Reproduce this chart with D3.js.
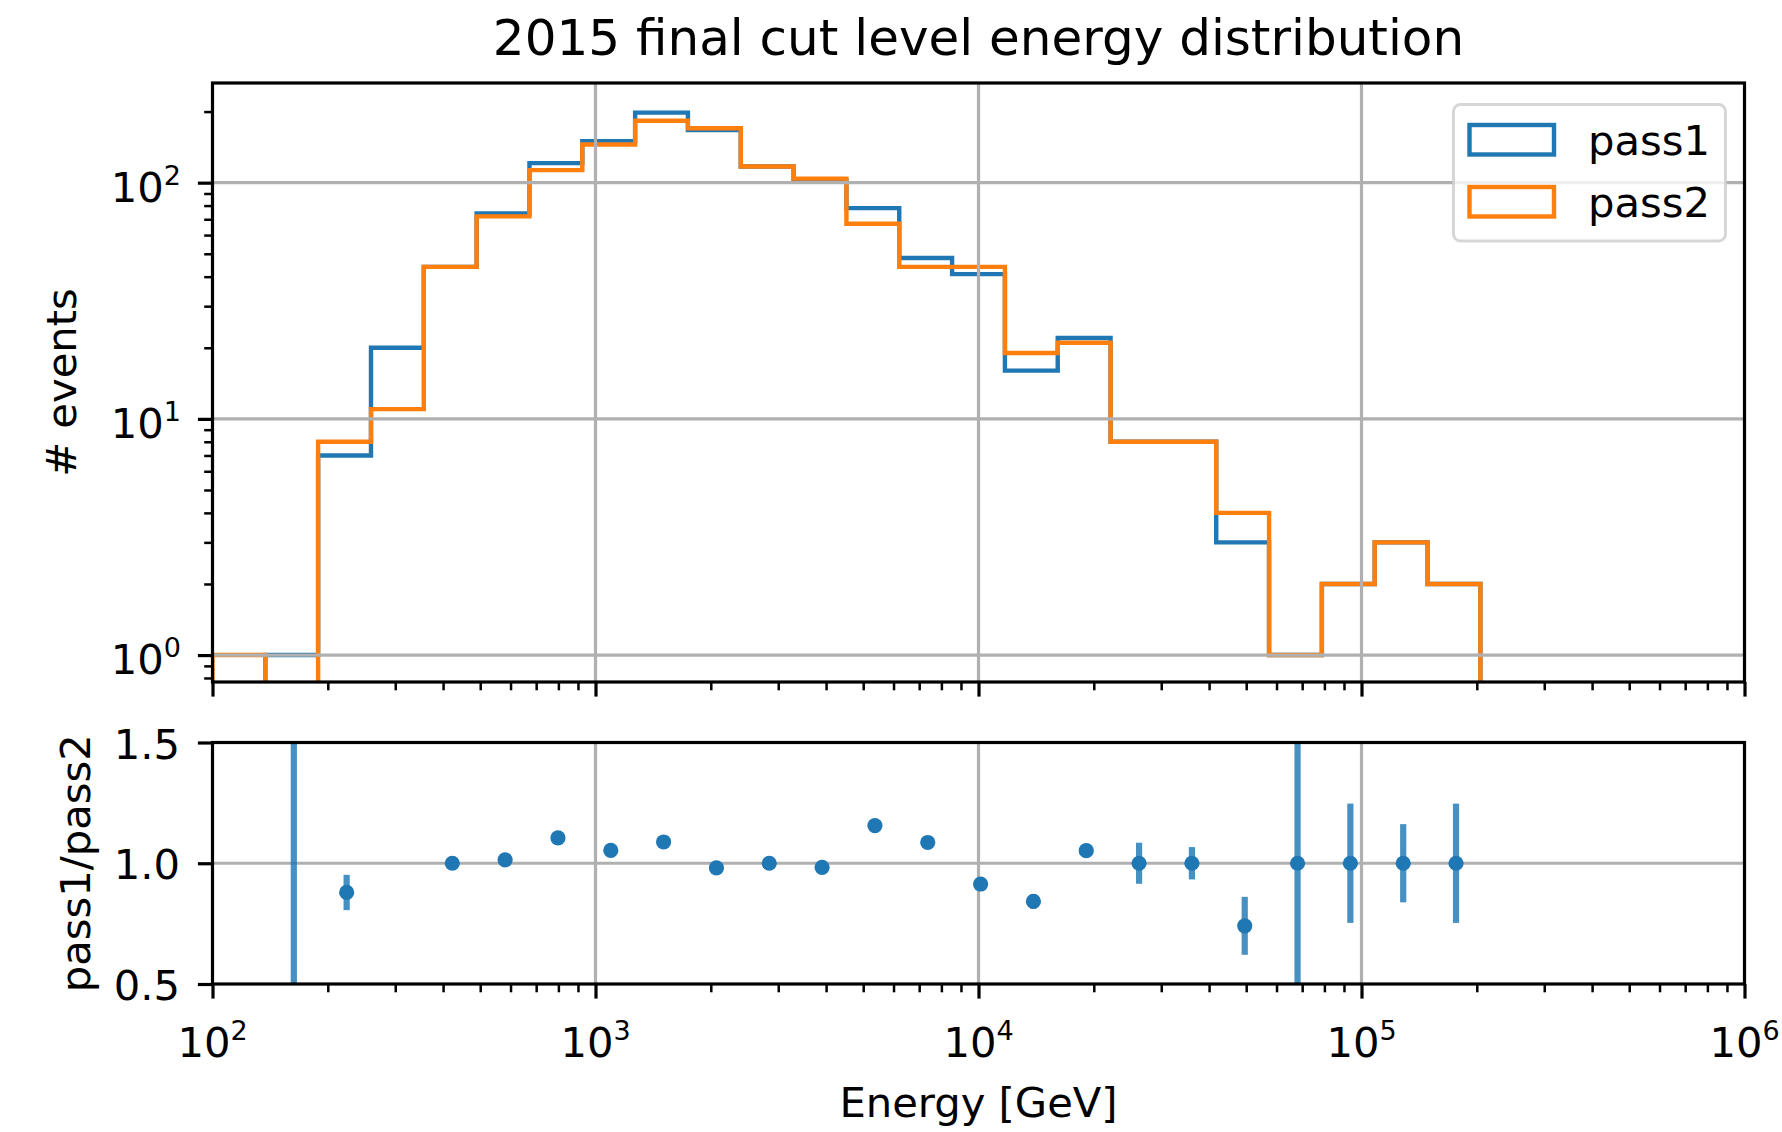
<!DOCTYPE html>
<html>
<head>
<meta charset="utf-8">
<script src="https://cdn.jsdelivr.net/npm/d3@7"></script>
<style>
  html, body { margin: 0; padding: 0; background: #ffffff; }
  svg { display: block; }
  text { font-family: "DejaVu Sans", sans-serif; fill: #000000; }
</style>
</head>
<body>
<svg id="chart" width="1782" height="1132"></svg>
<script>
// ---- data ---------------------------------------------------------------
// 29 logarithmic energy bins between 1e2 and 1e6 GeV
const binEdges = [100, 137.4, 188.7, 259.3, 356.2, 489.4, 672.3, 923.7, 1269, 1743,
  2395, 3290, 4520, 6210, 8532, 11721, 16103, 22122, 30392, 41753,
  57362, 78805, 108264, 148735, 204336, 280722, 385662, 529832, 727895, 1000000];

const pass1Counts = [0, 1, 7, 20, 44, 74, 121, 150, 198, 167, 117, 102, 78, 48, 41,
  16, 22, 8, 8, 3, 1, 2, 3, 2, 0, 0, 0, 0, 0];
const pass2Counts = [1, 0, 8, 11, 44, 72, 113, 145, 183, 170, 117, 104, 67, 44, 44,
  19, 21, 8, 8, 4, 1, 2, 3, 2, 0, 0, 0, 0, 0];

// pass1/pass2 ratio per bin (null = no marker) and the ends of its error bar
const ratioValues = [null, null, 0.879, null, 1.000, 1.014, 1.105, 1.053, 1.088, 0.981,
  1.000, 0.983, 1.156, 1.086, 0.914, 0.842, 1.052, 1.000, 1.000, 0.741,
  1.000, 1.000, 1.000, 1.000, null, null, null, null, null];
const ratioErrLow = [null, 0.0, 0.806, null, 0.988, 1.000, 1.088, 1.038, 1.073, 0.967,
  0.985, 0.968, 1.132, 1.062, 0.889, 0.812, 1.029, 0.915, 0.933, 0.621,
  0.500, 0.753, 0.838, 0.753, null, null, null, null, null];
const ratioErrHigh = [null, 2.0, 0.952, null, 1.012, 1.028, 1.122, 1.068, 1.103, 0.995,
  1.015, 0.998, 1.180, 1.110, 0.939, 0.872, 1.075, 1.085, 1.067, 0.861,
  1.500, 1.247, 1.162, 1.247, null, null, null, null, null];

const seriesNames = ["pass1", "pass2"];
const seriesColors = ["#1f77b4", "#ff7f0e"];

const xTickValues = [1e2, 1e3, 1e4, 1e5, 1e6];
const xTickExponents = ["2", "3", "4", "5", "6"];
const yTopTickValues = [1, 10, 100];
const yTopTickExponents = ["0", "1", "2"];
const yBotTickValues = [0.5, 1.0, 1.5];
const yBotTickLabels = ["0.5", "1.0", "1.5"];

const titleText = "2015 final cut level energy distribution";
const xLabelText = "Energy [GeV]";
const yTopLabelText = "# events";
const yBotLabelText = "pass1/pass2";

// ---- layout -------------------------------------------------------------
const plotLeft = 212.5, plotRight = 1744.5;
const topPanel = { y0: 83, y1: 682 };
const botPanel = { y0: 742.5, y1: 984 };
const fontSize = 41.7, supSize = 27;
const gridColor = "#b0b0b0", gridWidth = 3.2;
const spineWidth = 3.2;
const majorTick = 14.6, minorTick = 8.3;

const svg = d3.select("#chart");

const x = d3.scaleLog().domain([1e2, 1e6]).range([plotLeft, plotRight]);
const yTop = d3.scaleLog()
  .domain([Math.pow(10, -0.114), Math.pow(10, 2.422)])
  .range([topPanel.y1, topPanel.y0]);
const yBot = d3.scaleLinear().domain([0.5, 1.5]).range([botPanel.y1, botPanel.y0]);

const defs = svg.append("defs");
defs.append("clipPath").attr("id", "clip-top").append("rect")
  .attr("x", plotLeft).attr("y", topPanel.y0)
  .attr("width", plotRight - plotLeft).attr("height", topPanel.y1 - topPanel.y0);
defs.append("clipPath").attr("id", "clip-bot").append("rect")
  .attr("x", plotLeft).attr("y", botPanel.y0)
  .attr("width", plotRight - plotLeft).attr("height", botPanel.y1 - botPanel.y0);

const isDecade = v => Math.abs(Math.log10(v) - Math.round(Math.log10(v))) < 1e-9;
const xMinor = x.ticks().filter(v => !isDecade(v));
const yTopMinor = yTop.ticks().filter(v => !isDecade(v));

// ---- upper panel: step histograms --------------------------------------
const histPanel = svg.append("g");
const floorValue = 1e-3; // empty bins fall below the visible range
const stepPoints = counts => {
  const pts = [[binEdges[0], floorValue]];
  counts.forEach((c, i) => {
    const v = c > 0 ? c : floorValue;
    pts.push([binEdges[i], v], [binEdges[i + 1], v]);
  });
  pts.push([binEdges[binEdges.length - 1], floorValue]);
  return pts;
};
const stepLine = d3.line().x(d => x(d[0])).y(d => yTop(d[1]));

const histGroup = histPanel.append("g").attr("clip-path", "url(#clip-top)");
[pass1Counts, pass2Counts].forEach((counts, k) => {
  histGroup.append("path")
    .attr("d", stepLine(stepPoints(counts)))
    .attr("fill", "none")
    .attr("stroke", seriesColors[k])
    .attr("stroke-width", 4.4)
    .attr("stroke-linejoin", "miter");
});

// grid (drawn over the histogram outlines)
const histGrid = histPanel.append("g").attr("stroke", gridColor).attr("stroke-width", gridWidth);
xTickValues.slice(1, -1).forEach(v => {
  histGrid.append("line").attr("x1", x(v)).attr("x2", x(v))
    .attr("y1", topPanel.y0).attr("y2", topPanel.y1);
});
yTopTickValues.forEach(v => {
  histGrid.append("line").attr("x1", plotLeft).attr("x2", plotRight)
    .attr("y1", yTop(v)).attr("y2", yTop(v));
});

// ---- lower panel: ratio with error bars ---------------------------------
const ratioPanel = svg.append("g");
const ratioGrid = ratioPanel.append("g").attr("stroke", gridColor).attr("stroke-width", gridWidth);
xTickValues.slice(1, -1).forEach(v => {
  ratioGrid.append("line").attr("x1", x(v)).attr("x2", x(v))
    .attr("y1", botPanel.y0).attr("y2", botPanel.y1);
});
ratioGrid.append("line").attr("x1", plotLeft).attr("x2", plotRight)
  .attr("y1", yBot(1.0)).attr("y2", yBot(1.0));

// ratio points sit at the arithmetic middle of each bin
const binCenter = i => (binEdges[i] + binEdges[i + 1]) / 2;
const ratioGroup = ratioPanel.append("g").attr("clip-path", "url(#clip-bot)");
ratioErrLow.forEach((lo, i) => {
  if (lo === null) return;
  ratioGroup.append("line")
    .attr("x1", x(binCenter(i))).attr("x2", x(binCenter(i)))
    .attr("y1", yBot(lo)).attr("y2", yBot(ratioErrHigh[i]))
    .attr("stroke", seriesColors[0]).attr("stroke-opacity", 0.82)
    .attr("stroke-width", 6.2);
});
ratioValues.forEach((r, i) => {
  if (r === null) return;
  ratioGroup.append("circle")
    .attr("cx", x(binCenter(i))).attr("cy", yBot(r)).attr("r", 7.6)
    .attr("fill", seriesColors[0]);
});

// ---- axes ---------------------------------------------------------------
function styleTicks(g, width) {
  g.select(".domain").remove();
  g.selectAll("line").attr("stroke", "#000").attr("stroke-width", width);
}

[topPanel.y1, botPanel.y1].forEach(yb => {
  svg.append("g").attr("transform", `translate(0,${yb})`)
    .call(d3.axisBottom(x).tickValues(xMinor).tickSize(minorTick).tickFormat(""))
    .call(g => styleTicks(g, 2.5));
  svg.append("g").attr("transform", `translate(0,${yb})`)
    .call(d3.axisBottom(x).tickValues(xTickValues).tickSize(majorTick).tickFormat(""))
    .call(g => styleTicks(g, 3.2));
});

svg.append("g").attr("transform", `translate(${plotLeft},0)`)
  .call(d3.axisLeft(yTop).tickValues(yTopMinor).tickSize(minorTick).tickFormat(""))
  .call(g => styleTicks(g, 2.5));
svg.append("g").attr("transform", `translate(${plotLeft},0)`)
  .call(d3.axisLeft(yTop).tickValues(yTopTickValues).tickSize(majorTick).tickFormat(""))
  .call(g => styleTicks(g, 3.2));
svg.append("g").attr("transform", `translate(${plotLeft},0)`)
  .call(d3.axisLeft(yBot).tickValues(yBotTickValues).tickSize(majorTick).tickFormat(""))
  .call(g => styleTicks(g, 3.2));

// power-of-ten labels
function powerLabel(sel, exponent) {
  sel.append("tspan").text("10");
  sel.append("tspan").attr("dy", -17).attr("font-size", supSize).text(exponent);
}
xTickValues.forEach((v, i) => {
  svg.append("text").attr("x", x(v)).attr("y", 1057)
    .attr("text-anchor", "middle").attr("font-size", fontSize)
    .call(powerLabel, xTickExponents[i]);
});
yTopTickValues.forEach((v, i) => {
  svg.append("text").attr("x", 181).attr("y", yTop(v) + 19)
    .attr("text-anchor", "end").attr("font-size", fontSize)
    .call(powerLabel, yTopTickExponents[i]);
});
yBotTickValues.forEach((v, i) => {
  svg.append("text").attr("x", 180).attr("y", yBot(v) + 16)
    .attr("text-anchor", "end").attr("font-size", fontSize)
    .text(yBotTickLabels[i]);
});

// spines
[topPanel, botPanel].forEach(p => {
  svg.append("rect")
    .attr("x", plotLeft).attr("y", p.y0)
    .attr("width", plotRight - plotLeft).attr("height", p.y1 - p.y0)
    .attr("fill", "none").attr("stroke", "#000").attr("stroke-width", spineWidth);
});

// ---- legend -------------------------------------------------------------
const legend = svg.append("g");
legend.append("rect")
  .attr("x", 1453.5).attr("y", 104.5).attr("width", 272).attr("height", 136.5)
  .attr("rx", 7).attr("ry", 7)
  .attr("fill", "#ffffff").attr("fill-opacity", 0.8)
  .attr("stroke", "#cccccc").attr("stroke-opacity", 0.8).attr("stroke-width", 3);
seriesNames.forEach((name, k) => {
  const y0 = 125 + k * 62;
  legend.append("rect")
    .attr("x", 1469.5).attr("y", y0).attr("width", 84.5).attr("height", 29.5)
    .attr("fill", "none").attr("stroke", seriesColors[k]).attr("stroke-width", 4.4);
  legend.append("text")
    .attr("x", 1588).attr("y", y0 + 30).attr("font-size", fontSize)
    .text(name);
});

// ---- titles -------------------------------------------------------------
svg.append("text").attr("x", (plotLeft + plotRight) / 2).attr("y", 55)
  .attr("text-anchor", "middle").attr("font-size", 50).text(titleText);
svg.append("text").attr("x", (plotLeft + plotRight) / 2).attr("y", 1117)
  .attr("text-anchor", "middle").attr("font-size", fontSize).text(xLabelText);
svg.append("text")
  .attr("transform", `translate(76,${(topPanel.y0 + topPanel.y1) / 2}) rotate(-90)`)
  .attr("text-anchor", "middle").attr("font-size", fontSize).text(yTopLabelText);
svg.append("text")
  .attr("transform", `translate(90,${(botPanel.y0 + botPanel.y1) / 2}) rotate(-90)`)
  .attr("text-anchor", "middle").attr("font-size", fontSize).text(yBotLabelText);
</script>
</body>
</html>
